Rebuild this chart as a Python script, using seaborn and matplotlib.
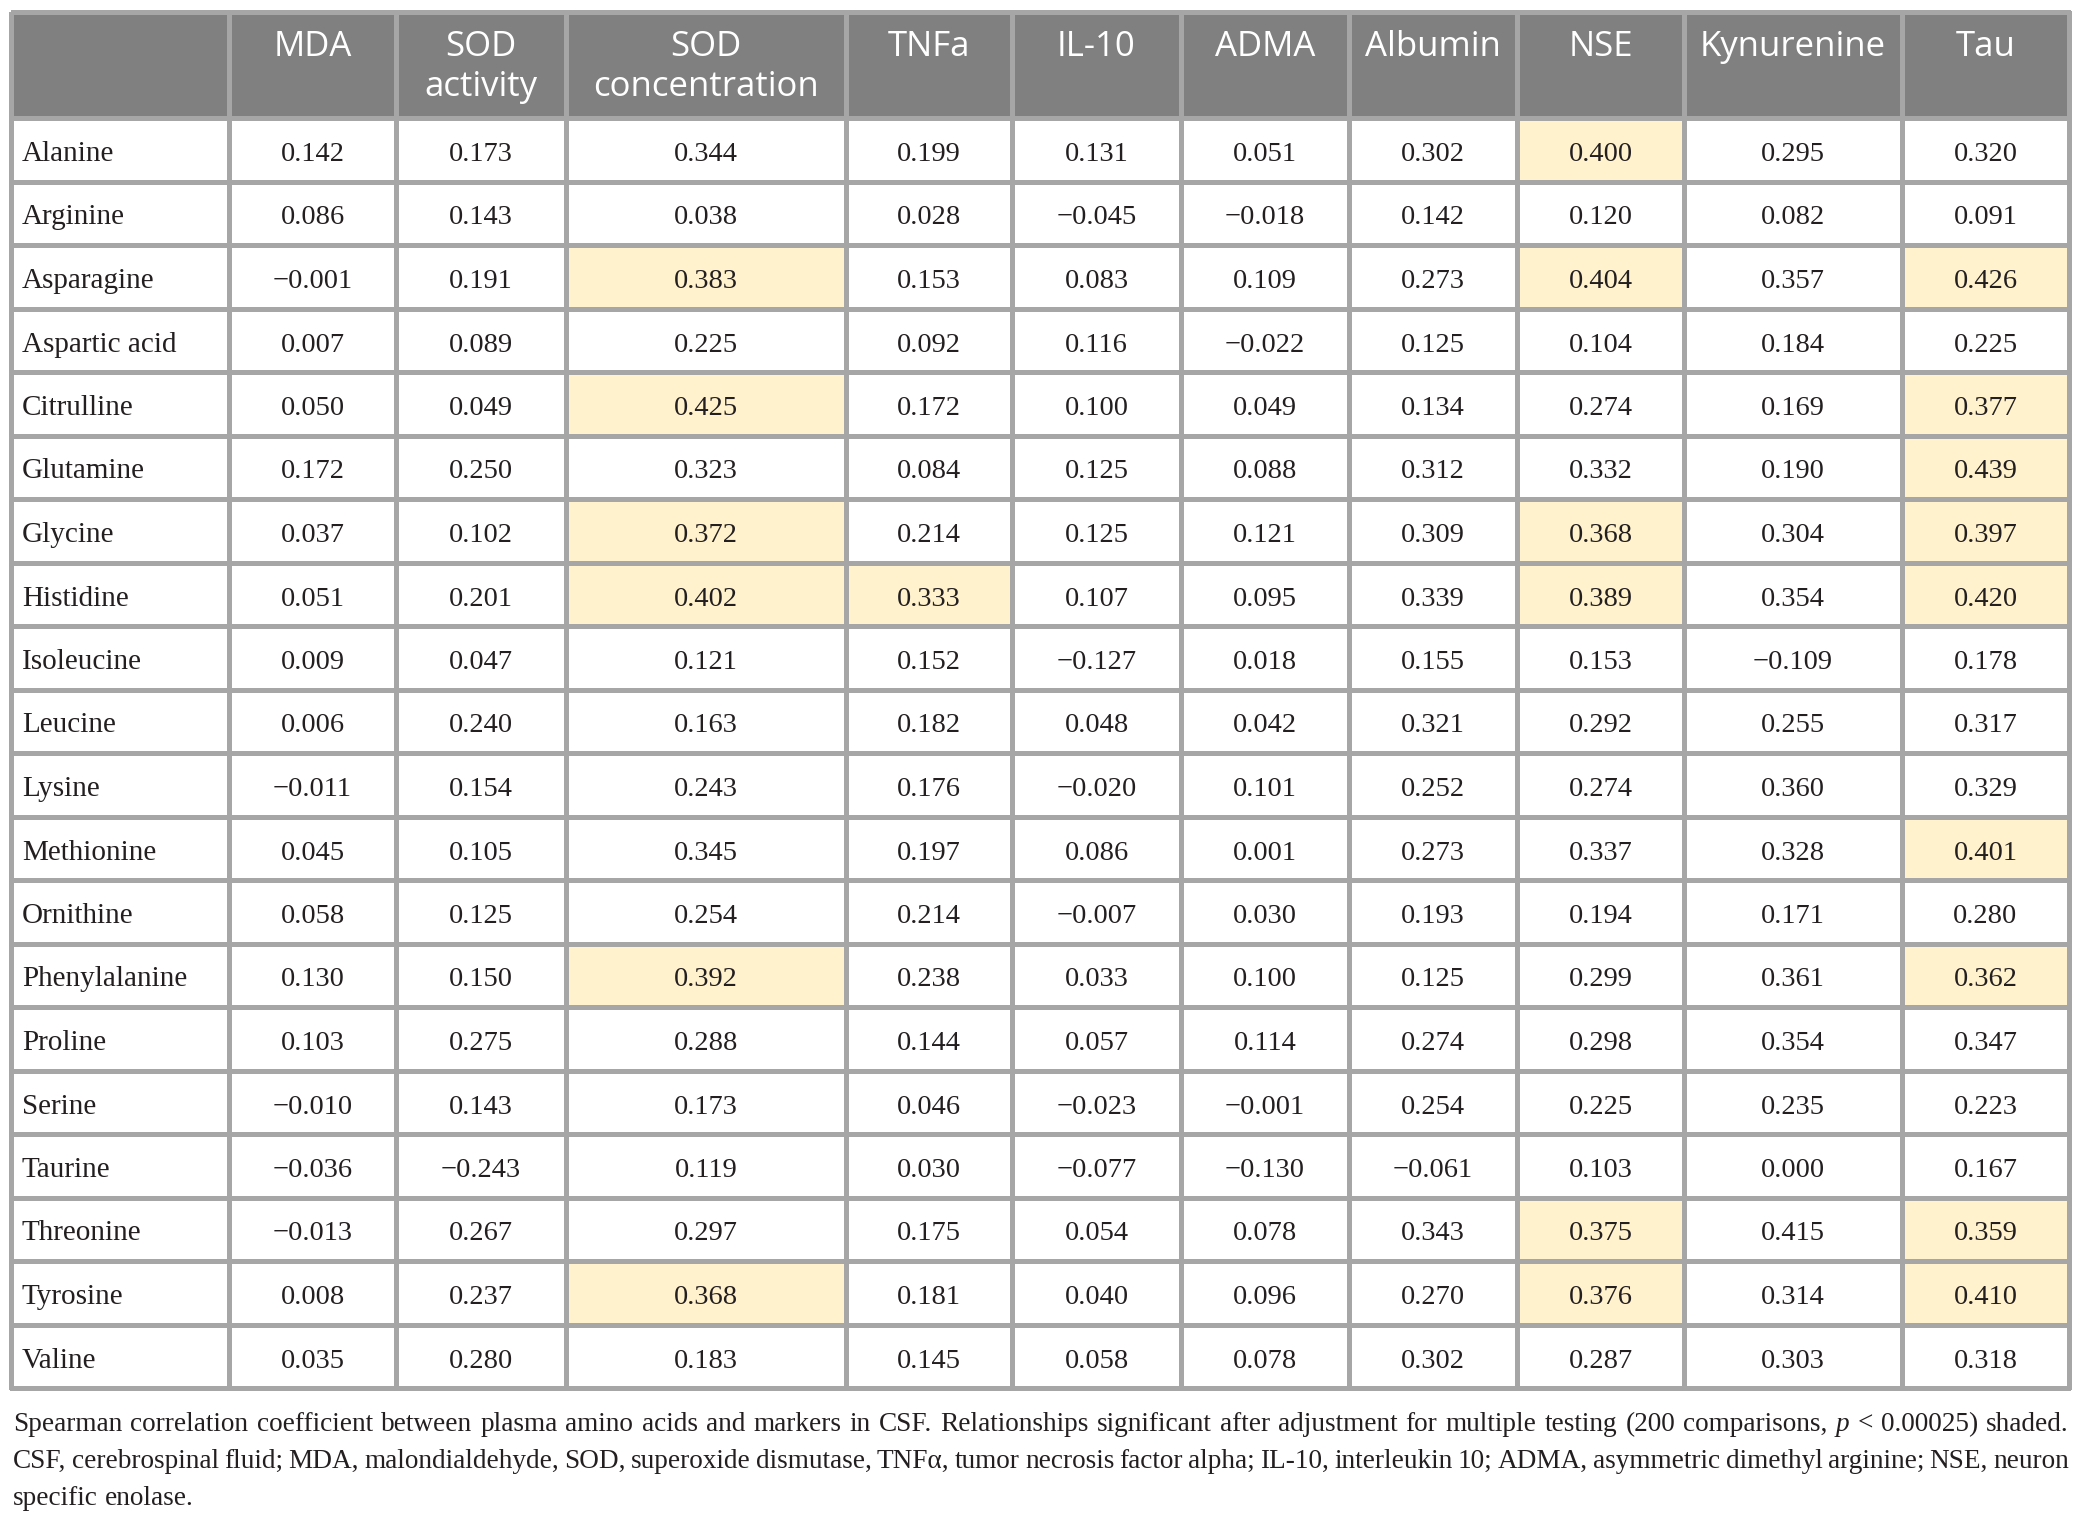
import numpy as np
import pandas as pd
import matplotlib
import matplotlib.pyplot as plt
from matplotlib.colors import ListedColormap
import seaborn as sns
matplotlib.use('Agg')


amino_acids = ["Alanine", "Arginine", "Asparagine", "Aspartic acid", "Citrulline",
               "Glutamine", "Glycine", "Histidine", "Isoleucine", "Leucine", "Lysine",
               "Methionine", "Ornithine", "Phenylalanine", "Proline", "Serine",
               "Taurine", "Threonine", "Tyrosine", "Valine"]
markers = ["MDA", "SOD\nactivity", "SOD\nconcentration", "TNFa", "IL-10", "ADMA",
           "Albumin", "NSE", "Kynurenine", "Tau"]

mda = [0.142, 0.086, -0.001, 0.007, 0.050, 0.172, 0.037, 0.051, 0.009, 0.006,
       -0.011, 0.045, 0.058, 0.130, 0.103, -0.010, -0.036, -0.013, 0.008, 0.035]
sod_activity = [0.173, 0.143, 0.191, 0.089, 0.049, 0.250, 0.102, 0.201, 0.047, 0.240,
                0.154, 0.105, 0.125, 0.150, 0.275, 0.143, -0.243, 0.267, 0.237, 0.280]
sod_conc = [0.344, 0.038, 0.383, 0.225, 0.425, 0.323, 0.372, 0.402, 0.121, 0.163,
            0.243, 0.345, 0.254, 0.392, 0.288, 0.173, 0.119, 0.297, 0.368, 0.183]
tnfa = [0.199, 0.028, 0.153, 0.092, 0.172, 0.084, 0.214, 0.333, 0.152, 0.182,
        0.176, 0.197, 0.214, 0.238, 0.144, 0.046, 0.030, 0.175, 0.181, 0.145]
il10 = [0.131, -0.045, 0.083, 0.116, 0.100, 0.125, 0.125, 0.107, -0.127, 0.048,
        -0.020, 0.086, -0.007, 0.033, 0.057, -0.023, -0.077, 0.054, 0.040, 0.058]
adma = [0.051, -0.018, 0.109, -0.022, 0.049, 0.088, 0.121, 0.095, 0.018, 0.042,
        0.101, 0.001, 0.030, 0.100, 0.114, -0.001, -0.130, 0.078, 0.096, 0.078]
albumin = [0.302, 0.142, 0.273, 0.125, 0.134, 0.312, 0.309, 0.339, 0.155, 0.321,
           0.252, 0.273, 0.193, 0.125, 0.274, 0.254, -0.061, 0.343, 0.270, 0.302]
nse = [0.400, 0.120, 0.404, 0.104, 0.274, 0.332, 0.368, 0.389, 0.153, 0.292,
       0.274, 0.337, 0.194, 0.299, 0.298, 0.225, 0.103, 0.375, 0.376, 0.287]
kynurenine = [0.295, 0.082, 0.357, 0.184, 0.169, 0.190, 0.304, 0.354, -0.109, 0.255,
              0.360, 0.328, 0.171, 0.361, 0.354, 0.235, 0.000, 0.415, 0.314, 0.303]
tau = [0.320, 0.091, 0.426, 0.225, 0.377, 0.439, 0.397, 0.420, 0.178, 0.317,
       0.329, 0.401, 0.280, 0.362, 0.347, 0.223, 0.167, 0.359, 0.410, 0.318]

# cells shaded in the paper (significant after correction)
sig_sod_conc = ["Asparagine", "Citrulline", "Glycine", "Histidine", "Phenylalanine", "Tyrosine"]
sig_tnfa = ["Histidine"]
sig_nse = ["Alanine", "Asparagine", "Glycine", "Histidine", "Threonine", "Tyrosine"]
sig_tau = ["Asparagine", "Citrulline", "Glutamine", "Glycine", "Histidine",
           "Methionine", "Phenylalanine", "Threonine", "Tyrosine"]

caption_1 = ("Spearman correlation coefficient between plasma amino acids and markers in CSF. "
             "Relationships significant after adjustment for multiple testing (200 comparisons, "
             "p < 0.00025) shaded.")
caption_2 = ("CSF, cerebrospinal fluid; MDA, malondialdehyde, SOD, superoxide dismutase, TNF\u03b1, "
             "tumor necrosis factor alpha; IL-10, interleukin 10; ADMA, asymmetric dimethyl "
             "arginine; NSE, neuron")
caption_3 = "specific enolase."

values = pd.DataFrame(
    np.column_stack([mda, sod_activity, sod_conc, tnfa, il10, adma, albumin, nse, kynurenine, tau]),
    index=amino_acids, columns=markers)
shaded = pd.DataFrame(0, index=amino_acids, columns=markers)
for col, rows in [(markers[2], sig_sod_conc), (markers[3], sig_tnfa),
                  (markers[7], sig_nse), (markers[9], sig_tau)]:
    shaded.loc[rows, col] = 1

# layout in pixels
W, H = 2083, 1524
col_edges = [11, 229, 396, 566, 846, 1012, 1181, 1349, 1517, 1684, 1902, 2069]
top, head_bottom, bottom = 12, 118, 1388
line_col = "#a6a6a6"
head_col = "#808080"
shade_col = "#fff2cc"
ink = "#231f20"
lw = 2.4

sns.set_style("white")
plt.rcParams["font.family"] = ["Liberation Serif", "DejaVu Serif"]
serif = ["Liberation Serif", "DejaVu Serif"]
sans = ["Open Sans", "Lato", "DejaVu Sans"]

fig = plt.figure(figsize=(W / 100, H / 100), dpi=100)


def px_axes(x0, y0, x1, y1):
    return fig.add_axes([x0 / W, 1 - y1 / H, (x1 - x0) / W, (y1 - y0) / H])


def fmt(v):
    return f"{v:.3f}".replace("-", "\u2212")


body_h = bottom - head_bottom
row_frac = 43.0 / (body_h / len(amino_acids))

for j in range(len(col_edges) - 1):
    x0, x1 = col_edges[j], col_edges[j + 1]

    # header cell
    hax = px_axes(x0, top, x1, head_bottom)
    sns.heatmap(np.zeros((1, 1)), ax=hax, cmap=ListedColormap([head_col]), vmin=0, vmax=1,
                cbar=False, linewidths=lw, linecolor=line_col,
                xticklabels=False, yticklabels=False)
    hax.collections[0].set_clip_on(False)
    if j > 0:
        for k, part in enumerate(markers[j - 1].split("\n")):
            hax.text(0.5, (56 + 40 * k - top) / (head_bottom - top), part, ha="center",
                     va="baseline", color="white", fontsize=25, family=sans)

    # body cells
    bax = px_axes(x0, head_bottom, x1, bottom)
    if j == 0:
        sns.heatmap(np.zeros((len(amino_acids), 1)), ax=bax, cmap=ListedColormap(["white"]),
                    vmin=0, vmax=1, cbar=False, linewidths=lw, linecolor=line_col,
                    xticklabels=False, yticklabels=False)
        for i, name in enumerate(amino_acids):
            bax.text(11 / (x1 - x0), i + row_frac, name, ha="left", va="baseline",
                     fontsize=21, color=ink, family=serif)
    else:
        col = markers[j - 1]
        labels = np.array([[fmt(v)] for v in values[col]])
        sns.heatmap(shaded[[col]].values, ax=bax, cmap=ListedColormap(["white", shade_col]),
                    vmin=0, vmax=1, cbar=False, linewidths=lw, linecolor=line_col,
                    xticklabels=False, yticklabels=False, annot=labels, fmt="",
                    annot_kws={"fontsize": 20.5, "color": ink, "family": serif})
        for t in bax.texts:
            xt, yt = t.get_position()
            t.set_va("baseline")
            t.set_y(yt - 0.5 + row_frac)
            t.set_color(ink)
    bax.collections[0].set_clip_on(False)
    bax.set_xlabel("")
    bax.set_ylabel("")

# caption, justified like the journal layout
renderer = fig.canvas.get_renderer()
cap_x0, cap_x1 = 13, 2069


def line_words(text, fs, y_px):
    items = []
    for word in text.split(" "):
        style = "italic" if word == "p" else "normal"
        t = fig.text(0, 1 - y_px / H, word, fontsize=fs, style=style, family=serif,
                     color=ink, ha="left", va="baseline")
        items.append((t, t.get_window_extent(renderer).width))
    return items


# pick the caption size so that the first line nearly fills the width
probe = line_words(caption_1, 20, 0)
natural = sum(w for _, w in probe) + (len(probe) - 1) * 20 * 0.25 * 100 / 72
for t, _ in probe:
    t.remove()
cap_fs = 20 * (cap_x1 - cap_x0) / natural * 0.985


def caption_line(text, y_px, justify):
    items = line_words(text, cap_fs, y_px)
    total = sum(w for _, w in items)
    gap = cap_fs * 0.25 * 100 / 72
    if justify:
        gap = (cap_x1 - cap_x0 - total) / (len(items) - 1)
    x = cap_x0
    for t, w in items:
        t.set_x(x / W)
        x += w + gap


caption_line(caption_1, 1431, True)
caption_line(caption_2, 1468, True)
caption_line(caption_3, 1505, False)

fig.savefig("out.png", dpi=100)
